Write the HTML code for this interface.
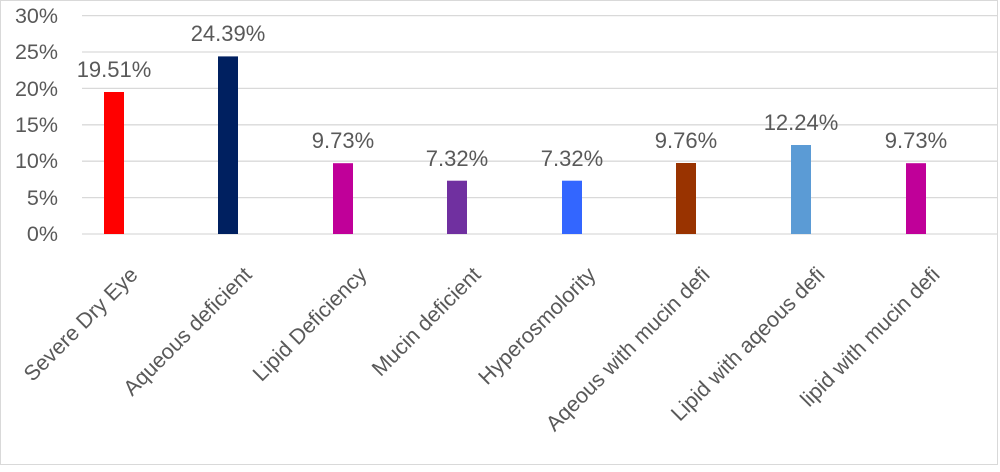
<!DOCTYPE html>
<html><head><style>
body{margin:0;background:#fff}
</style></head><body>
<svg width="1000" height="467" xmlns="http://www.w3.org/2000/svg" font-family="Liberation Sans, sans-serif" fill="#595959">
<rect x="0.5" y="0.5" width="997" height="464" fill="#fff" stroke="#d9d9d9"/>
<g stroke="#d9d9d9" stroke-width="1.3">
<line x1="82" x2="997" y1="15.6" y2="15.6"/>
<line x1="82" x2="997" y1="52" y2="52"/>
<line x1="82" x2="997" y1="88.4" y2="88.4"/>
<line x1="82" x2="997" y1="124.8" y2="124.8"/>
<line x1="82" x2="997" y1="161.2" y2="161.2"/>
<line x1="82" x2="997" y1="197.6" y2="197.6"/>
<line x1="82" x2="997" y1="234" y2="234"/>
</g>
<g font-size="21.5" text-anchor="end">
<text x="58" y="23">30%</text>
<text x="58" y="59">25%</text>
<text x="58" y="96">20%</text>
<text x="58" y="132">15%</text>
<text x="58" y="168">10%</text>
<text x="58" y="205">5%</text>
<text x="58" y="241">0%</text>
</g>
<g>
<rect x="104" y="92" width="20" height="142" fill="#ff0000"/>
<rect x="218" y="56.4" width="20" height="177.6" fill="#002060"/>
<rect x="333" y="163.2" width="20" height="70.8" fill="#c00099"/>
<rect x="447" y="180.7" width="20" height="53.3" fill="#7030a0"/>
<rect x="562" y="180.7" width="20" height="53.3" fill="#3366ff"/>
<rect x="676" y="163" width="20" height="71" fill="#993300"/>
<rect x="791" y="145" width="20" height="89" fill="#5b9bd5"/>
<rect x="906" y="163.2" width="20" height="70.8" fill="#c00099"/>
</g>
<g font-size="22" text-anchor="middle">
<text x="114" y="77">19.51%</text>
<text x="228" y="41">24.39%</text>
<text x="343" y="148">9.73%</text>
<text x="457" y="166">7.32%</text>
<text x="572" y="166">7.32%</text>
<text x="686" y="148">9.76%</text>
<text x="801" y="130">12.24%</text>
<text x="916" y="148">9.73%</text>
</g>
<g font-size="21.5" text-anchor="end">
<text transform="translate(139,276) rotate(-45)">Severe Dry Eye</text>
<text transform="translate(253,276) rotate(-45)">Aqueous deficient</text>
<text transform="translate(368,276) rotate(-45)">Lipid Deficiency</text>
<text transform="translate(482,276) rotate(-45)">Mucin deficient</text>
<text transform="translate(597,276) rotate(-45)">Hyperosmolority</text>
<text transform="translate(711,276) rotate(-45)">Aqeous with mucin defi</text>
<text transform="translate(826,276) rotate(-45)">Lipid with aqeous defi</text>
<text transform="translate(941,276) rotate(-45)">lipid with mucin defi</text>
</g>
</svg>
</body></html>
